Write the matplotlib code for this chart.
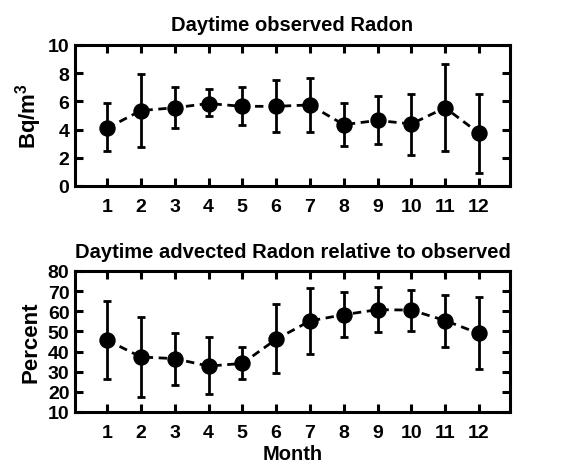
import matplotlib
matplotlib.use("Agg")
import matplotlib.pyplot as plt

months = list(range(1, 13))
month_labels = [str(m) for m in months]

radon = [4.1, 5.35, 5.55, 5.85, 5.65, 5.65, 5.75, 4.35, 4.65, 4.4, 5.55, 3.75]
radon_hi = [5.9, 7.95, 7.0, 6.9, 7.0, 7.5, 7.65, 5.9, 6.4, 6.55, 8.65, 6.5]
radon_lo = [2.45, 2.8, 4.1, 4.95, 4.3, 3.8, 3.8, 2.85, 2.95, 2.2, 2.45, 0.95]

adv = [45.7, 37.3, 36.5, 32.8, 34.1, 46.1, 55.2, 58.3, 60.8, 60.6, 55.4, 49.0]
adv_hi = [65.0, 57.2, 49.3, 47.0, 42.3, 63.6, 71.5, 69.4, 72.0, 70.8, 68.3, 67.0]
adv_lo = [26.4, 17.5, 23.5, 19.1, 26.6, 29.5, 38.6, 47.0, 49.6, 50.2, 42.3, 31.2]

plt.rcParams['font.family'] = ['Liberation Sans', 'DejaVu Sans']
plt.rcParams['font.weight'] = 'bold'
plt.rcParams['mathtext.fontset'] = 'custom'
plt.rcParams['mathtext.bf'] = 'Liberation Sans:bold'
plt.rcParams['mathtext.rm'] = 'Liberation Sans:bold'

fig = plt.figure(figsize=(5.83, 4.64), dpi=100)
W, H = 583, 464
ax1 = fig.add_axes([75 / W, 1 - 187 / H, 435 / W, 141 / H])
ax2 = fig.add_axes([75 / W, 1 - 413 / H, 435 / W, 141 / H])


def draw(ax, y, lo, hi):
    yerr = [[v - l for v, l in zip(y, lo)], [h - v for v, h in zip(y, hi)]]
    ax.plot(months, y, color='black', lw=2.0, linestyle=(0, (3, 2)), zorder=2)
    ax.errorbar(months, y, yerr=yerr, fmt='none', ecolor='black', elinewidth=2.0,
                capsize=3, capthick=2.0, zorder=3)
    ax.plot(months, y, 'o', color='black', markersize=10.8, zorder=4)
    ax.set_xlim(0.05, 12.92)
    ax.set_xticks(months)
    ax.set_xticklabels(month_labels)
    ax.tick_params(direction='in', length=6, width=2.2, top=True, right=True,
                   labelsize=14)
    ax.tick_params(axis='x', pad=9)
    ax.tick_params(axis='y', pad=4)
    for lab in ax.get_xticklabels() + ax.get_yticklabels():
        lab.set_fontweight('bold')
    for s in ax.spines.values():
        s.set_linewidth(2.2)


draw(ax1, radon, radon_lo, radon_hi)
ax1.set_ylim(0, 10)
ax1.set_yticks([0, 2, 4, 6, 8, 10])
ax1.set_ylabel('Bq/m$^\\mathbf{3}$', fontsize=16, fontweight='bold')
ax1.yaxis.set_label_coords(-0.072, 0.5)
ax1.set_title('Daytime observed Radon', fontsize=14.5, fontweight='bold', pad=11)

draw(ax2, adv, adv_lo, adv_hi)
ax2.set_ylim(10, 80)
ax2.set_yticks([10, 20, 30, 40, 50, 60, 70, 80])
ax2.set_ylabel('Percent', fontsize=16, fontweight='bold')
ax2.yaxis.set_label_coords(-0.076, 0.5)
ax2.set_xlabel('Month', fontsize=14.5, fontweight='bold')
ax2.xaxis.set_label_coords(0.5, -0.225)
ax2.set_title('Daytime advected Radon relative to observed', fontsize=14.5,
              fontweight='bold', pad=10)

fig.savefig('out.png', dpi=100)
